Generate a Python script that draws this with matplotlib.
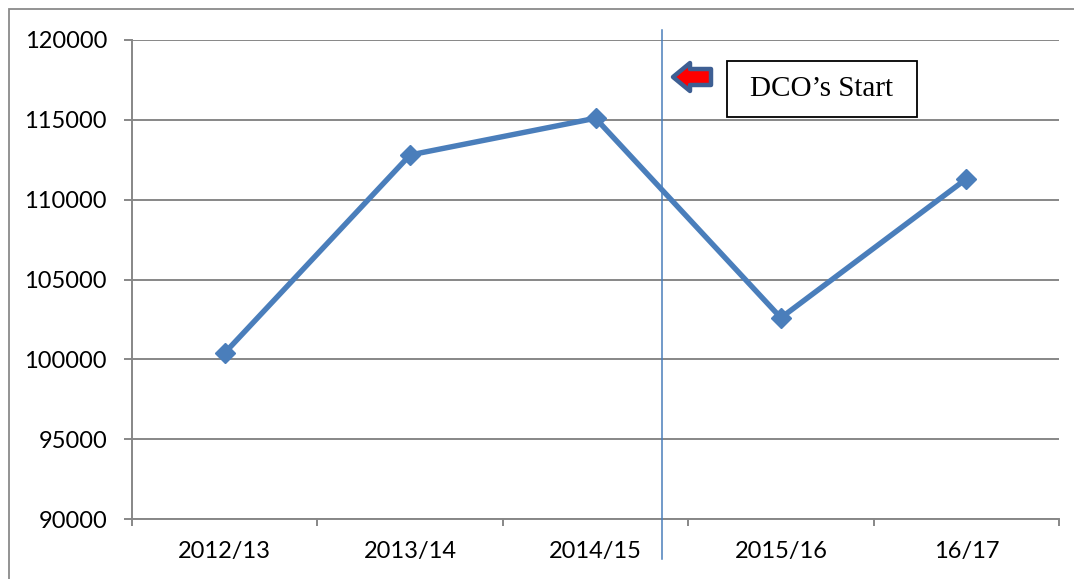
import numpy as np
import matplotlib
matplotlib.use("Agg")
import matplotlib.pyplot as plt
from matplotlib.patches import Polygon, Rectangle
from matplotlib.transforms import blended_transform_factory

# data
years = ["2012/13", "2013/14", "2014/15", "2015/16", "16/17"]
values = [100400, 112800, 115100, 102600, 111300]
y_ticks = [90000, 95000, 100000, 105000, 110000, 115000, 120000]
dco_pos = 2.36          # where the "DCO's Start" divider sits (category units)
dco_label = "DCO\u2019s Start"

W, H = 1074, 579
blue = "#4a7ebb"
grid_grey = "#878787"
label_font = "Lato"


def px(x, y):
    """ pixel (top-left origin) -> figure fraction """
    return x / W, 1 - y / H


fig = plt.figure(figsize=(W / 100, H / 100), dpi=100)
ax = fig.add_axes([132 / W, 1 - 519 / H, 927 / W, 479 / H])

xs = np.arange(len(years))
ax.plot(xs, values, color=blue, lw=3.9, marker="D", ms=10.5,
        mec=blue, mfc=blue, zorder=3, clip_on=False)

ax.set_xlim(-0.5, len(years) - 0.5)
ax.set_ylim(y_ticks[0], y_ticks[-1])
ax.set_yticks(y_ticks)
ax.set_yticklabels([str(v) for v in y_ticks], fontsize=17, family=label_font)
ax.yaxis.grid(True, color=grid_grey, lw=1.4)
ax.set_axisbelow(True)

ax.set_xticks(xs)
ax.set_xticklabels(years, fontsize=17, family=label_font)
ax.set_xticks(np.arange(len(years) + 1) - 0.5, minor=True)
ax.tick_params(axis="x", which="major", length=0, pad=16)
ax.tick_params(axis="x", which="minor", length=5, width=1.4, color=grid_grey)
ax.tick_params(axis="y", length=6, width=1.4, color=grid_grey, pad=12)

for side in ["top", "right"]:
    ax.spines[side].set_visible(False)
for side in ["left", "bottom"]:
    ax.spines[side].set_color(grid_grey)
    ax.spines[side].set_linewidth(1.4)

# divider line for DCO start
trans = blended_transform_factory(ax.transData, ax.transAxes)
ax.plot([dco_pos, dco_pos], [-0.084, 1.021], transform=trans,
        color=blue, lw=1.1, clip_on=False, zorder=4)

# block arrow pointing left
arrow_px = [(673, 77), (690, 63), (690, 69), (711, 69), (711, 85),
            (690, 85), (690, 91)]
fig.patches.append(Polygon([px(x, y) for x, y in arrow_px], closed=True,
                           transform=fig.transFigure, facecolor="#ff0000",
                           edgecolor="#3e5f93", lw=3.2, joinstyle="round"))

# text box
x0, y0 = px(727, 117)
x1, y1 = px(917, 61)
fig.patches.append(Rectangle((x0, y0), x1 - x0, y1 - y0,
                             transform=fig.transFigure, facecolor="white",
                             edgecolor="black", lw=1.3, zorder=5))
fig.text((x0 + x1) / 2, (y0 + y1) / 2, dco_label, ha="center", va="center",
         fontsize=21, family="Liberation Serif", zorder=6)

# outer chart-area frame
bx, by = px(9, 1000)
fig.patches.append(Rectangle((bx, by), 1.5, px(0, 9)[1] - by,
                             transform=fig.transFigure, fill=False,
                             edgecolor="#8a8a8a", lw=1.3))

fig.savefig("out.png", dpi=100)
